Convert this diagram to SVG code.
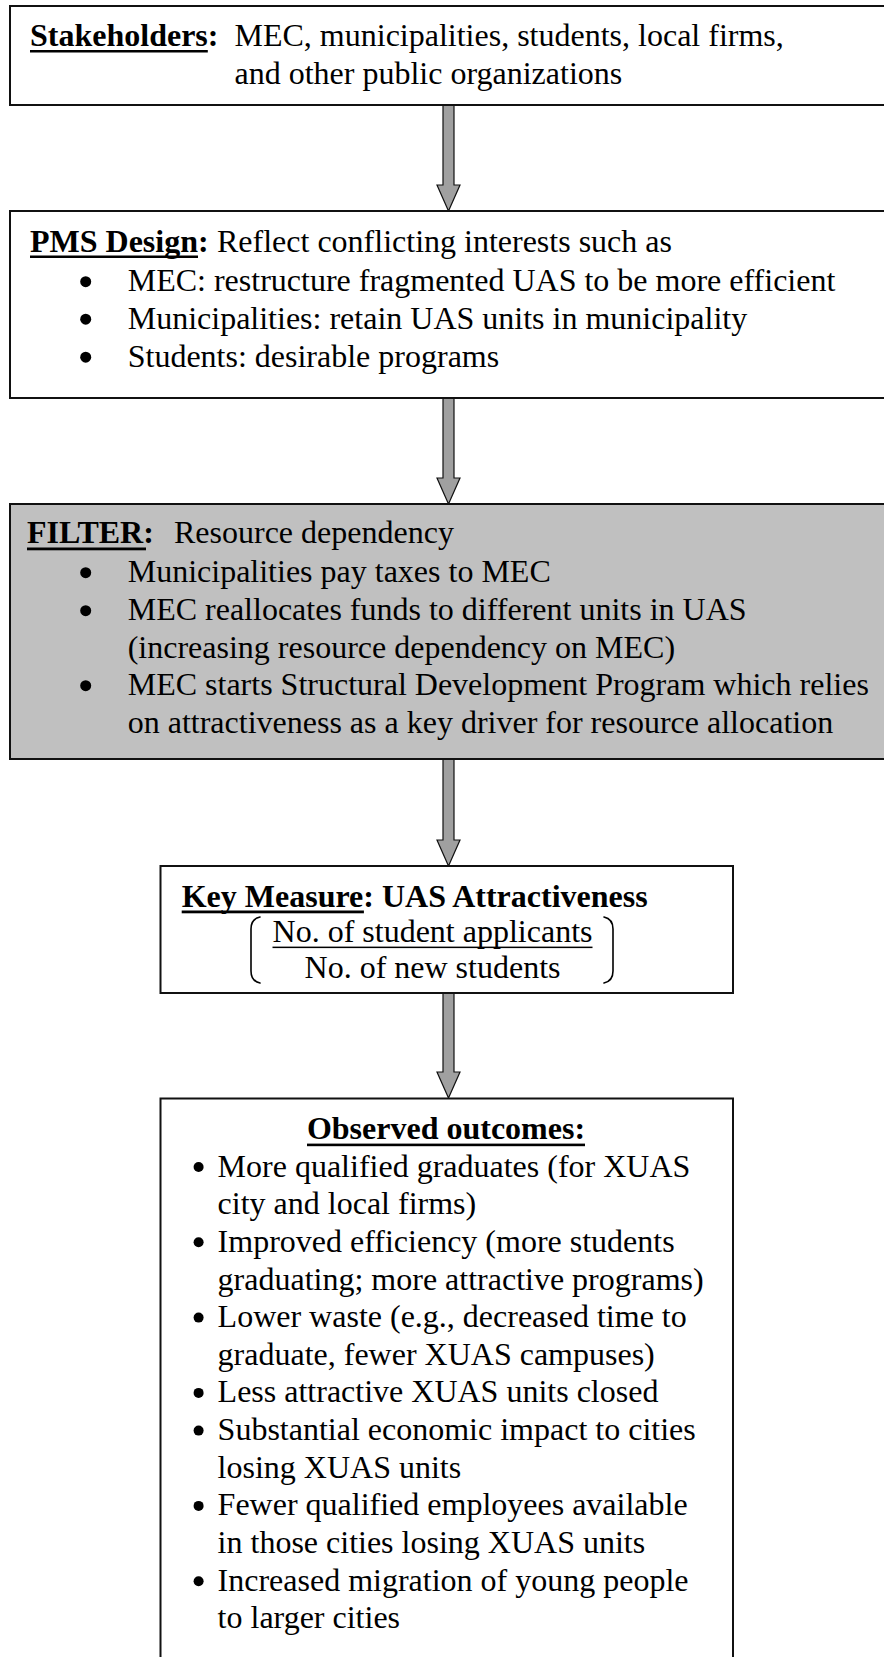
<svg xmlns="http://www.w3.org/2000/svg" width="884" height="1657" viewBox="0 0 884 1657">
<style>
  .box { fill: #ffffff; stroke: #111111; stroke-width: 2; }
  .grey { fill: #c0c0c0; }
  .t { font-family: "Liberation Serif", "Times New Roman", serif; font-size: 32px; fill: #000000; }
  .b { font-weight: bold; }
  .ul { fill: #000000; }
  .dot { fill: #000000; }
  .arrow { fill: #a0a0a0; stroke: #111111; stroke-width: 1.2; stroke-linejoin: miter; }
  .brk { fill: none; stroke: #000000; stroke-width: 1.6; stroke-linecap: round; }
</style>
<rect width="884" height="1657" fill="#ffffff"/>

<g id="connectors">
  <polygon class="arrow" points="443,105 454,105 454,185 460,185 448.5,211 437,185 443,185 443,105"/>
  <polygon class="arrow" points="443,398 454,398 454,478 460,478 448.5,504 437,478 443,478 443,398"/>
  <polygon class="arrow" points="443,759 454,759 454,840 460,840 448.5,866 437,840 443,840 443,759"/>
  <polygon class="arrow" points="443,993 454,993 454,1072 460,1072 448.5,1098 437,1072 443,1072 443,993"/>
</g>

<g id="stakeholders">
  <rect class="box" x="10" y="6" width="890" height="99"/>
  <text class="t" y="45.5"><tspan class="b" x="30">Stakeholders:</tspan><tspan x="234.5">MEC, municipalities, students, local firms,</tspan></text>
  <rect class="ul" x="30" y="50" width="177.8" height="2.5"/>
  <text class="t" x="234.5" y="83.5">and other public organizations</text>
</g>

<g id="pms-design">
  <rect class="box" x="10" y="211" width="890" height="187"/>
  <text class="t" y="252"><tspan class="b" x="30">PMS Design:</tspan><tspan x="217">Reflect conflicting interests such as</tspan></text>
  <rect class="ul" x="30" y="255.5" width="168" height="2.5"/>
  <circle class="dot" cx="85.7" cy="281.7" r="5.5"/>
  <text class="t" x="127.7" y="291">MEC: restructure fragmented UAS to be more efficient</text>
  <circle class="dot" cx="85.7" cy="319.2" r="5.5"/>
  <text class="t" x="127.7" y="328.5">Municipalities: retain UAS units in municipality</text>
  <circle class="dot" cx="85.7" cy="357.2" r="5.5"/>
  <text class="t" x="127.7" y="366.5">Students: desirable programs</text>
</g>

<g id="filter">
  <rect class="box grey" x="10" y="504" width="890" height="255"/>
  <text class="t" y="543"><tspan class="b" x="27">FILTER:</tspan><tspan x="174">Resource dependency</tspan></text>
  <rect class="ul" x="27" y="547.5" width="119" height="2.8"/>
  <circle class="dot" cx="85.7" cy="572.7" r="5.5"/>
  <text class="t" x="127.7" y="582">Municipalities pay taxes to MEC</text>
  <circle class="dot" cx="85.7" cy="610.7" r="5.5"/>
  <text class="t" x="127.7" y="620">MEC reallocates funds to different units in UAS</text>
  <text class="t" x="127.7" y="657.5">(increasing resource dependency on MEC)</text>
  <circle class="dot" cx="85.7" cy="685.7" r="5.5"/>
  <text class="t" x="127.7" y="695">MEC starts Structural Development Program which relies</text>
  <text class="t" x="127.7" y="732.5">on attractiveness as a key driver for resource allocation</text>
</g>

<g id="key-measure">
  <rect class="box" x="160.5" y="866" width="572.5" height="127"/>
  <text class="t b" x="181.7" y="906.5">Key Measure: UAS Attractiveness</text>
  <rect class="ul" x="181.7" y="910.5" width="182.2" height="2.8"/>
  <text class="t" x="432.5" y="941.7" text-anchor="middle">No. of student applicants</text>
  <rect class="ul" x="272.5" y="946.6" width="320" height="1.5"/>
  <text class="t" x="432.5" y="978" text-anchor="middle">No. of new students</text>
  <path class="brk" d="M260,917 Q251,919 251,929 L251,971 Q251,981 260,983"/>
  <path class="brk" d="M604,917 Q613,919 613,929 L613,971 Q613,981 604,983"/>
</g>

<g id="observed-outcomes">
  <rect class="box" x="160.5" y="1098.5" width="572.5" height="580"/>
  <text class="t b" x="446" y="1138.6" text-anchor="middle">Observed outcomes:</text>
  <rect class="ul" x="307" y="1143.6" width="278" height="2.6"/>
  <circle class="dot" cx="198.6" cy="1167" r="5"/>
  <text class="t" x="217.6" y="1176.5">More qualified graduates (for XUAS</text>
  <text class="t" x="217.6" y="1214.2">city and local firms)</text>
  <circle class="dot" cx="198.6" cy="1242.3" r="5"/>
  <text class="t" x="217.6" y="1251.8">Improved efficiency (more students</text>
  <text class="t" x="217.6" y="1289.5">graduating; more attractive programs)</text>
  <circle class="dot" cx="198.6" cy="1317.6" r="5"/>
  <text class="t" x="217.6" y="1327.1">Lower waste (e.g., decreased time to</text>
  <text class="t" x="217.6" y="1364.8">graduate, fewer XUAS campuses)</text>
  <circle class="dot" cx="198.6" cy="1392.9" r="5"/>
  <text class="t" x="217.6" y="1402.4">Less attractive XUAS units closed</text>
  <circle class="dot" cx="198.6" cy="1430.6" r="5"/>
  <text class="t" x="217.6" y="1440.1">Substantial economic impact to cities</text>
  <text class="t" x="217.6" y="1477.8">losing XUAS units</text>
  <circle class="dot" cx="198.6" cy="1505.9" r="5"/>
  <text class="t" x="217.6" y="1515.4">Fewer qualified employees available</text>
  <text class="t" x="217.6" y="1553.1">in those cities losing XUAS units</text>
  <circle class="dot" cx="198.6" cy="1581.2" r="5"/>
  <text class="t" x="217.6" y="1590.7">Increased migration of young people</text>
  <text class="t" x="217.6" y="1628.4">to larger cities</text>
</g>
</svg>
